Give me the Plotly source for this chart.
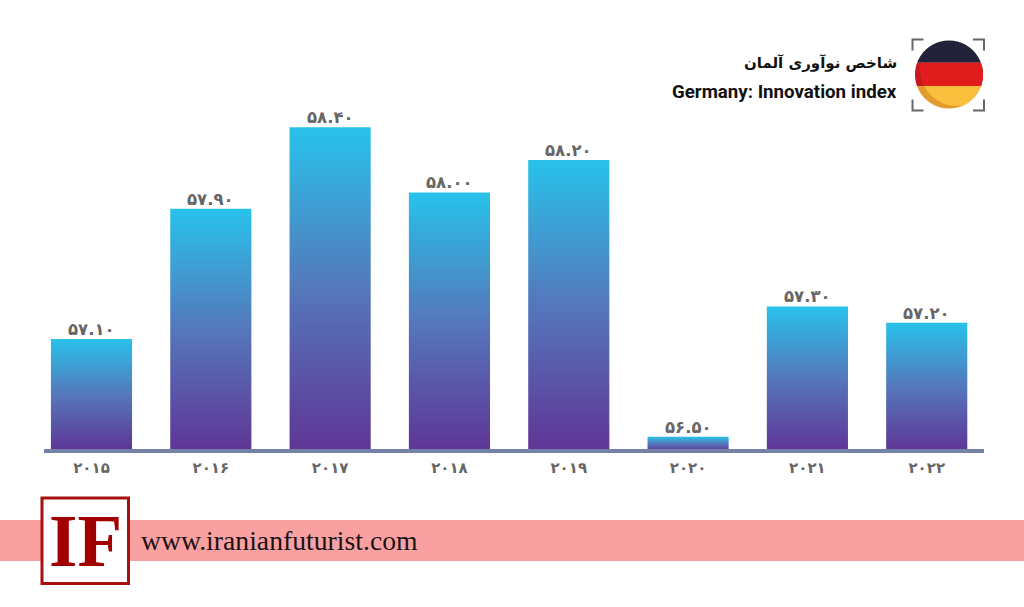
import math
import plotly.graph_objects as go

years = ["2015", "2016", "2017", "2018", "2019", "2020", "2021", "2022"]
values = [57.1, 57.9, 58.4, 58.0, 58.2, 56.5, 57.3, 57.2]
year_labels = ["۲۰۱۵", "۲۰۱۶", "۲۰۱۷", "۲۰۱۸", "۲۰۱۹", "۲۰۲۰", "۲۰۲۱", "۲۰۲۲"]
value_labels = ["۵۷.۱۰", "۵۷.۹۰", "۵۸.۴۰", "۵۸.۰۰", "۵۸.۲۰", "۵۶.۵۰", "۵۷.۳۰", "۵۷.۲۰"]
title_fa = "شاخص نوآوری آلمان"
title_en = "Germany: Innovation index"
site = "www.iranianfuturist.com"
W, H = 1024, 607
L, R, T, B = 44, 984, 100, 451  # plot area in page pixels

def px(x): return (x - L) / (R - L)
def py(y): return (B - y) / (B - T)

def rect(x0, y0, x1, y1, fill, line=None, lw=0):
    return dict(type="rect", xref="paper", yref="paper", x0=px(x0), x1=px(x1), y0=py(y1), y1=py(y0),
                fillcolor=fill, line=dict(color=line or fill, width=lw), layer="below")

def poly(points, fill):
    d = "M" + "L".join(f"{px(a):.5f},{py(b):.5f}" for a, b in points) + "Z"
    return dict(type="path", xref="paper", yref="paper", path=d, fillcolor=fill, line=dict(width=0))

CX, CY, RAD = 949, 74.5, 34
LX, LY, LR = 957, 69, 37

def band(y0, y1, lit, color):
    left, right = [], []
    n = int((y1 - y0) * 3)
    for i in range(n + 1):
        y = y0 + (y1 - y0) * i / n
        h = math.sqrt(max(RAD**2 - (y - CY)**2, 0))
        a, b = CX - h, CX + h
        if lit:
            k2 = LR**2 - (y - LY)**2
            if k2 <= 0:
                continue
            k = math.sqrt(k2)
            a = max(a, LX - k)
            b = min(b, LX + k)
            if a >= b:
                continue
        left.append((a, y))
        right.append((b, y))
    return poly(left + right[::-1], color)

shapes = [
    rect(0, 520, W, 561, "#f9a0a0"),
    rect(42, 498, 128.5, 583.5, "#ffffff", "#a80f0f", 3),
]
TOP_DARK, MID, BOT = CY - 34, 62.7, 86
shapes += [
    band(TOP_DARK, MID, False, "#222338"),
    band(MID, BOT, False, "#c41a1d"),
    band(BOT, CY + 34, False, "#e29c2e"),
    band(MID, BOT, True, "#e01c1c"),
    band(BOT, CY + 34, True, "#fbbf3e"),
]
for (x, y, dx, dy) in [(912.5, 39.5, 1, 1), (984, 39.5, -1, 1), (912.5, 110.5, 1, -1), (984, 110.5, -1, -1)]:
    d = f"M{px(x + dx * 11):.5f},{py(y):.5f}L{px(x):.5f},{py(y):.5f}L{px(x):.5f},{py(y + dy * 11):.5f}"
    shapes.append(dict(type="path", xref="paper", yref="paper", path=d, line=dict(color="#63666a", width=2)))

def note(text, x, y, size, family, color, anchor, bold=False):
    t = f"<b>{text}</b>" if bold else text
    return dict(text=t, xref="paper", yref="paper", x=px(x), y=py(y), xanchor=anchor, yanchor="middle",
                showarrow=False, font=dict(size=size, family=family, color=color))

annotations = [
    note(title_fa, 899, 63, 15, "DejaVu Sans", "#111111", "right", True),
    note(title_en, 899, 92, 18.7, "Roboto", "#111111", "right", True),
    note("IF", 85, 541, 73, "Liberation Serif", "#a00000", "center", True),
    note(site, 138.5, 540, 27.7, "Liberation Serif", "#1c1216", "left"),
]
for i, (v, lab) in enumerate(zip(values, value_labels)):
    annotations.append(dict(text=lab, xref="x", yref="y", x=i, y=v, yanchor="middle", yshift=9.5, showarrow=False,
                            font=dict(size=16.5, family="DejaVu Sans", color="#666666", weight="bold")))

fig = go.Figure(go.Bar(
    x=years, y=values, width=0.68, marker=dict(color="#4a7cc0", line=dict(width=0)),
))
fig.update_layout(
    width=W, height=H, margin=dict(l=L, r=W - R, t=T, b=H - B, pad=0),
    paper_bgcolor="#ffffff", plot_bgcolor="#ffffff", showlegend=False, bargap=0.32,
    shapes=shapes, annotations=annotations,
    xaxis=dict(type="category", range=[-0.398, 7.48], tickmode="array", tickvals=years, ticktext=year_labels,
               showgrid=False, ticks="outside", ticklen=3, tickcolor="rgba(0,0,0,0)", showline=False,
               tickfont=dict(size=15, family="DejaVu Sans", color="#666666", weight="bold")),
    yaxis=dict(range=[56.412, 58.568], visible=False, showgrid=False, zeroline=False),
)
# horizontal baseline
fig.add_shape(type="line", xref="paper", yref="paper", x0=0, x1=1, y0=0, y1=0, line=dict(color="#7482a6", width=4))

post = """
document.documentElement.style.margin='0';document.body.style.margin='0';document.body.style.overflow='hidden';
var gd=document.getElementsByClassName('plotly-graph-div')[0];
var svg=gd.querySelector('svg.main-svg');
var ns='http://www.w3.org/2000/svg';
var defs=svg.querySelector('defs')||svg.insertBefore(document.createElementNS(ns,'defs'),svg.firstChild);
var plotH=gd._fullLayout._size.h;
gd.querySelectorAll('.bars .point path').forEach(function(p,i){
 var m=p.getAttribute('d').match(/V([-0-9.]+)H/);
 var g=document.createElementNS(ns,'linearGradient');g.setAttribute('id','barGrad'+i);
 g.setAttribute('gradientUnits','userSpaceOnUse');
 g.setAttribute('x1','0');g.setAttribute('x2','0');g.setAttribute('y1',m[1]);g.setAttribute('y2',String(plotH));
 [['0','#28c2ea'],['0.5','#5577bb'],['1','#5f3596']].forEach(function(s){
  var e=document.createElementNS(ns,'stop');e.setAttribute('offset',s[0]);e.setAttribute('stop-color',s[1]);g.appendChild(e);});
 defs.appendChild(g);
 p.style.fill='url(#barGrad'+i+')';
});
"""
fig.write_html("out.html", post_script=post, config=dict(displayModeBar=False))
